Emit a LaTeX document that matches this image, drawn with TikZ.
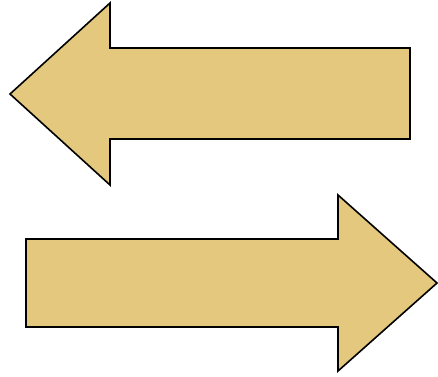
\documentclass[tikz,border=0pt]{standalone}
\usetikzlibrary{calc}
\definecolor{arrowfill}{RGB}{227,200,125}
\tikzset{
  % Block arrow outline
  blockarrow/.style={
    draw=black, fill=arrowfill, line width=1.6pt, line join=miter
  },
}

\begin{document}
\begin{tikzpicture}[x=1pt, y=-1pt]

  \useasboundingbox (0,0) rectangle (438,376);

  %% ── Arrow pointing left ──
  \coordinate (leftTip) at (10,94);
  \draw[blockarrow] (leftTip) -- (110,3) -- (110,48) -- (410,48)
    -- (410,139) -- (110,139) -- (110,185) -- cycle;

  %% ── Arrow pointing right ──
  \coordinate (rightTip) at (437,283);
  \draw[blockarrow] (rightTip) -- (338,195) -- (338,239) -- (26,239)
    -- (26,327) -- (338,327) -- (338,371) -- cycle;

\end{tikzpicture}
\end{document}
